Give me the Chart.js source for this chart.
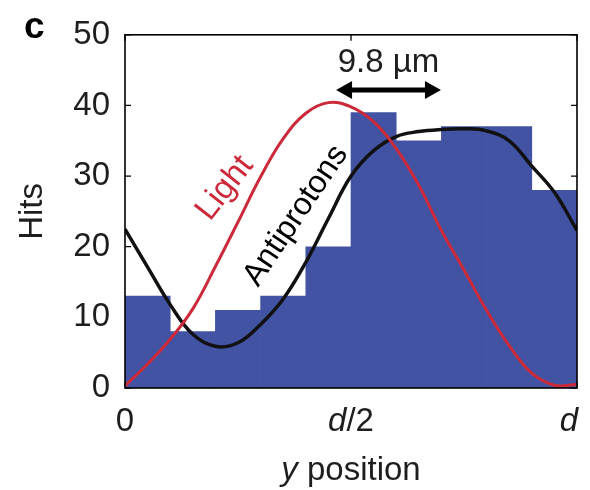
<!DOCTYPE html>
<html><head><meta charset="utf-8">
<script src="https://cdn.jsdelivr.net/npm/chart.js@4.4.1/dist/chart.umd.min.js"></script>
<style>html,body{margin:0;padding:0;background:#fff;}canvas{display:block;}</style>
</head><body>
<canvas id="c" width="590" height="490"></canvas>
<script>
// ---- data ----
const binCenters = [0.05,0.15,0.25,0.35,0.45,0.55,0.65,0.75,0.85,0.95];
const hits = [13,8,11,13,20,39,35,37,37,28];
const curveX = [0,0.05,0.1,0.15,0.2,0.25,0.3,0.35,0.4,0.45,0.5,0.55,0.6,0.65,0.7,0.75,0.8,0.85,0.9,0.95,1];
const lightCurve = [0.3,3.4,6.9,11.2,17.2,23.5,29.9,35.3,38.9,40.4,39.8,37.7,33.9,28.7,22.3,16.7,11.0,6.0,2.1,0.4,0.5];
const antiprotonCurve = [22.5,17.1,11.8,7.6,5.9,6.4,9.0,12.6,17.8,24.0,30.0,33.6,35.6,36.3,36.6,36.7,36.4,35.0,31.4,27.7,22.3];
const yTicks = [0,10,20,30,40,50];
const xTickValues = [0,0.5,1];
const xTickLabels = ['0','d/2','d'];
const xTitle = 'y position';
const yTitle = 'Hits';
const panelLabel = 'c';
const spacingLabel = '9.8 µm';
const lightLabel = 'Light';
const antiLabel = 'Antiprotons';

const FONT = '"Liberation Sans", Arial, Helvetica, sans-serif';
const TXT = '#1e1e1e';
const RED = '#cc2a3a';
const BLUE = '#4253a3';

function drawMixed(ctx, text, cx, y, size, maxRight) {
  const seg = text.split(/(\bd\b|^y\b)/).filter(s => s.length).map(t => ({t, it: /^(d|y)$/.test(t)}));
  let w = 0;
  seg.forEach(s => { ctx.font = (s.it ? 'italic ' : '') + size + 'px ' + FONT; s.w = ctx.measureText(s.t).width; w += s.w; });
  let sx = cx - w / 2;
  if (maxRight !== undefined && sx + w > maxRight) sx = maxRight - w;
  ctx.textAlign = 'left'; ctx.textBaseline = 'alphabetic'; ctx.fillStyle = TXT;
  seg.forEach(s => { ctx.font = (s.it ? 'italic ' : '') + size + 'px ' + FONT; ctx.fillText(s.t, sx, y); sx += s.w; });
}

const decor = {
  id: 'decor',
  beforeDatasetsDraw(chart) {
    const {ctx, chartArea: a, scales: {x, y}} = chart;
    ctx.save();
    ctx.strokeStyle = '#000'; ctx.lineWidth = 1.3;
    const L = 6;
    yTicks.forEach(v => {
      const py = y.getPixelForValue(v);
      ctx.beginPath(); ctx.moveTo(a.left, py); ctx.lineTo(a.left + L, py);
      ctx.moveTo(a.right, py); ctx.lineTo(a.right - L, py); ctx.stroke();
    });
    xTickValues.forEach(v => {
      const px = x.getPixelForValue(v);
      ctx.beginPath(); ctx.moveTo(px, a.top); ctx.lineTo(px, a.top + L);
      ctx.moveTo(px, a.bottom); ctx.lineTo(px, a.bottom - L); ctx.stroke();
    });
    ctx.restore();
  },
  afterDatasetsDraw(chart) {
    const {ctx, chartArea: a} = chart;
    ctx.save();
    ctx.strokeStyle = '#000'; ctx.lineWidth = 1.6;
    ctx.strokeRect(a.left, a.top, a.right - a.left, a.bottom - a.top);
    ctx.restore();
  },
  afterDraw(chart) {
    const {ctx, chartArea: a, scales: {x, y}} = chart;
    ctx.save();
    xTickValues.forEach((v, i) => drawMixed(ctx, xTickLabels[i], x.getPixelForValue(v), a.bottom + 43, 33, a.right + 1));
    drawMixed(ctx, xTitle, (a.left + a.right) / 2, a.bottom + 92, 33);
    ctx.fillStyle = '#000'; ctx.font = 'bold 37px ' + FONT; ctx.textAlign = 'left'; ctx.textBaseline = 'alphabetic';
    ctx.fillText(panelLabel, 24, 38);
    const x1 = x.getPixelForValue(0.467), x2 = x.getPixelForValue(0.699), ay = y.getPixelForValue(42.2);
    const hl = 16, hh = 9;
    ctx.fillStyle = '#000'; ctx.strokeStyle = '#000'; ctx.lineWidth = 5;
    ctx.beginPath(); ctx.moveTo(x1 + hl - 2, ay); ctx.lineTo(x2 - hl + 2, ay); ctx.stroke();
    ctx.beginPath(); ctx.moveTo(x1, ay); ctx.lineTo(x1 + hl, ay - hh); ctx.lineTo(x1 + hl, ay + hh); ctx.closePath(); ctx.fill();
    ctx.beginPath(); ctx.moveTo(x2, ay); ctx.lineTo(x2 - hl, ay - hh); ctx.lineTo(x2 - hl, ay + hh); ctx.closePath(); ctx.fill();
    ctx.font = '33px ' + FONT; ctx.fillStyle = TXT; ctx.textAlign = 'center';
    ctx.fillText(spacingLabel, (x1 + x2) / 2, y.getPixelForValue(44.8));
    ctx.textBaseline = 'middle';
    ctx.save();
    ctx.translate(x.getPixelForValue(0.221), y.getPixelForValue(28.3));
    ctx.rotate(-52 * Math.PI / 180);
    ctx.fillStyle = RED; ctx.font = '33px ' + FONT; ctx.fillText(lightLabel, 0, 0);
    ctx.restore();
    ctx.save();
    ctx.translate(x.getPixelForValue(0.378), y.getPixelForValue(24.4));
    ctx.rotate(-56 * Math.PI / 180);
    ctx.fillStyle = '#000'; ctx.font = '32px ' + FONT; ctx.fillText(antiLabel, 0, 0);
    ctx.restore();
    ctx.restore();
  }
};

new Chart(document.getElementById('c'), {
  type: 'bar',
  data: {
    datasets: [
      { type: 'line', label: 'Light', data: curveX.map((v, i) => ({x: v, y: lightCurve[i]})),
        borderColor: RED, borderWidth: 3, pointRadius: 0, fill: false, tension: 0.4 },
      { type: 'line', label: 'Antiprotons', data: curveX.map((v, i) => ({x: v, y: antiprotonCurve[i]})),
        borderColor: '#111', borderWidth: 3.5, pointRadius: 0, fill: false, tension: 0.4 },
      { type: 'bar', label: 'Hits', data: binCenters.map((v, i) => ({x: v, y: hits[i]})),
        backgroundColor: BLUE, borderWidth: 0, barPercentage: 1, categoryPercentage: 1, grouped: false }
    ]
  },
  options: {
    responsive: false, animation: false, devicePixelRatio: 1,
    layout: { padding: { top: 33, right: 13, bottom: 102, left: 0 } },
    plugins: { legend: { display: false }, tooltip: { enabled: false } },
    scales: {
      x: { type: 'linear', min: 0, max: 1, offset: false, display: false },
      y: {
        type: 'linear', min: 0, max: 50,
        afterBuildTicks: s => { s.ticks = yTicks.map(v => ({value: v})); },
        afterFit: s => { s.width = 125; },
        grid: { display: false, drawTicks: false },
        border: { display: false },
        ticks: { padding: 15, color: TXT, font: { family: FONT, size: 33 } },
        title: { display: true, text: yTitle, color: TXT, font: { family: FONT, size: 33 }, padding: { top: 13, bottom: 0 } }
      }
    }
  },
  plugins: [decor]
});
</script>
</body></html>
